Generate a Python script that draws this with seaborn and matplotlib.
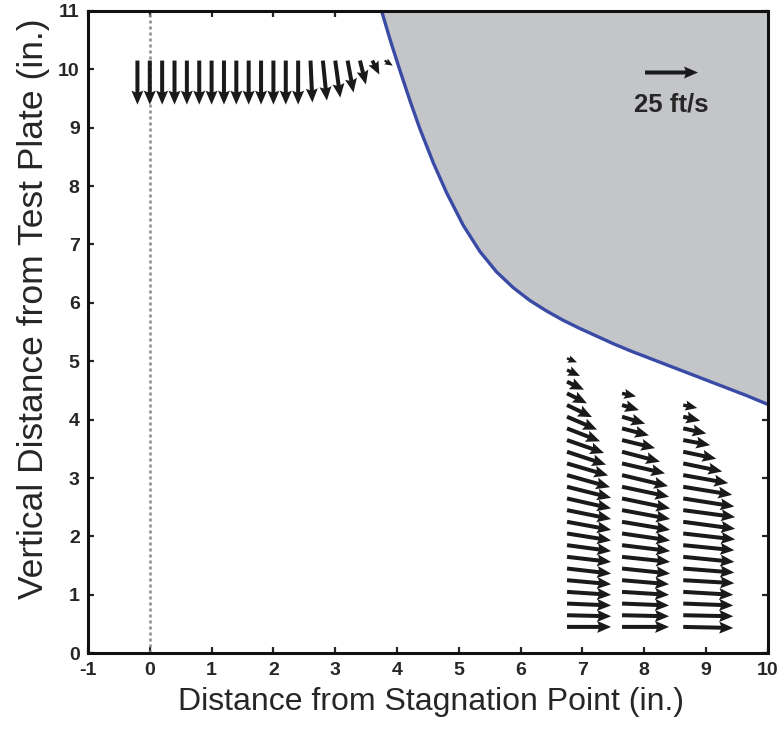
import pandas as pd
import matplotlib
matplotlib.use("Agg")
import matplotlib.pyplot as plt
import seaborn as sns

# boundary of the shaded region (in.)
curve_x = [3.75, 3.89, 4.05, 4.21, 4.37, 4.59, 4.80, 5.07, 5.34, 5.61, 5.88, 6.15,
           6.42, 6.69, 6.96, 7.23, 7.50, 7.77, 8.04, 8.31, 8.58, 8.85, 9.12, 9.39,
           9.66, 10.0]
curve_y = [11.0, 10.50, 9.97, 9.46, 8.98, 8.39, 7.89, 7.33, 6.88, 6.53, 6.26, 6.04,
           5.86, 5.70, 5.56, 5.43, 5.30, 5.18, 5.07, 4.96, 4.85, 4.74, 4.63, 4.52,
           4.41, 4.26]

# upper row of vectors (ft/s)
top_x = [-0.2, 0.0, 0.2, 0.4, 0.6, 0.8, 1.0, 1.2, 1.4, 1.6, 1.8, 2.0, 2.2, 2.4,
         2.6, 2.8, 3.0, 3.2, 3.4, 3.6, 3.8]
top_y = 10.15
top_u = [0, 0, 0, 0, 0, 0, 0, 0, 0, 0, 0, 0, 0, 0,
         0.9, 1.9, 2.4, 2.8, 2.8, 3.3, 3.8]
top_v = [-20.8, -20.8, -20.8, -20.8, -20.8, -20.8, -20.8, -20.8, -20.8, -20.8,
         -20.8, -20.8, -20.8, -20.8, -19.8, -18.9, -17.5, -15.1, -11.3, -6.6, -2.4]

# three profiles near the plate (top to bottom)
col_x = [6.75, 7.64, 8.63]
col1_y = [5.05, 4.85, 4.65, 4.45, 4.25, 4.05, 3.85, 3.65, 3.45, 3.25, 3.05, 2.85,
          2.65, 2.45, 2.25, 2.05, 1.85, 1.65, 1.45, 1.25, 1.05, 0.85, 0.65, 0.45]
col1_u = [4.7, 6.1, 8.0, 9.4, 11.8, 14.2, 15.6, 17.5, 18.4, 19.4, 20.3, 20.8,
          20.8, 20.8, 20.8, 20.8, 20.8, 20.8, 20.8, 20.8, 20.8, 20.8, 20.8, 20.8]
col1_v = [-1.9, -2.8, -3.8, -4.7, -5.7, -6.1, -6.1, -6.1, -6.1, -5.7, -5.7, -5.2,
          -4.7, -4.2, -3.8, -3.3, -2.8, -2.4, -2.4, -1.9, -1.4, -0.9, -0.5, 0.0]

col2_y = [4.45, 4.25, 4.05, 3.85, 3.65, 3.45, 3.25, 3.05, 2.85, 2.65, 2.45,
          2.25, 2.05, 1.85, 1.65, 1.45, 1.25, 1.05, 0.85, 0.65, 0.45]
col2_u = [6.6, 8.0, 10.9, 12.7, 15.6, 17.9, 20.3, 21.7, 22.2, 22.7, 22.7,
          22.7, 22.7, 22.7, 22.7, 22.7, 22.2, 22.2, 22.2, 22.2, 22.2]
col2_v = [-1.4, -2.4, -3.3, -3.3, -3.8, -4.7, -4.7, -5.2, -4.7, -4.7, -4.2,
          -3.8, -3.3, -2.8, -2.4, -2.4, -1.9, -1.4, -0.9, -0.5, 0.0]

col3_y = [4.25, 4.05, 3.85, 3.65, 3.45, 3.25, 3.05, 2.85, 2.65, 2.45,
          2.25, 2.05, 1.85, 1.65, 1.45, 1.25, 1.05, 0.85, 0.65, 0.45]
col3_u = [6.6, 8.0, 10.9, 12.7, 15.6, 18.4, 21.2, 23.1, 24.1, 24.5,
          24.5, 24.5, 24.1, 24.1, 24.1, 24.1, 23.6, 23.6, 23.6, 23.6]
col3_v = [-1.4, -1.9, -2.4, -2.4, -3.3, -3.8, -3.8, -3.8, -3.8, -3.3,
          -3.3, -2.8, -2.4, -2.4, -1.9, -1.4, -1.4, -0.9, -0.5, -0.5]

x_ticks = list(range(-1, 11))
y_ticks = list(range(0, 12))

# gather vectors in one table
frames = [pd.DataFrame({"x": top_x, "y": top_y, "u": top_u, "v": top_v})]
for cx, cy, cu, cv in zip(col_x, [col1_y, col2_y, col3_y],
                          [col1_u, col2_u, col3_u], [col1_v, col2_v, col3_v]):
    frames.append(pd.DataFrame({"x": cx, "y": cy, "u": cu, "v": cv}))
vec = pd.concat(frames, ignore_index=True)

sns.set_theme(style="ticks")
plt.rcParams["font.family"] = ["Liberation Sans", "DejaVu Sans"]
plt.rcParams["axes.unicode_minus"] = False

fig = plt.figure(figsize=(7.82, 7.29), dpi=100)
ax = fig.add_axes([0.1125, 0.104, 0.8695, 0.881])

# shaded region and its boundary
ax.fill_between(curve_x, curve_y, 11, color="#c4c5c9", zorder=1, lw=0)
sns.lineplot(x=curve_x, y=curve_y, ax=ax, color="#3a4ba6", lw=2.4, zorder=2)

ax.axvline(0, color="#8a8a8a", ls=(0, (1.2, 1.2)), lw=1.8, zorder=1)

q = ax.quiver(vec["x"], vec["y"], vec["u"], vec["v"], angles="uv",
              scale_units="inches", scale=47.2, units="dots", width=4.0,
              headwidth=3.0, headlength=3.5, headaxislength=3.1, minshaft=1.2,
              color="#1a1a1a", zorder=3)
ax.quiverkey(q, 8.43, 9.95, 25, "25 ft/s", labelpos="S", coordinates="data",
             labelsep=0.2, color="#1a1a1a",
             fontproperties={"weight": "bold", "size": 18.5})

ax.set_xlim(-1, 10)
ax.set_ylim(0, 11)
ax.set_xticks(x_ticks)
ax.set_yticks(y_ticks)
ax.tick_params(direction="in", length=4.5, width=1.6, top=True, right=True,
               labelsize=14, pad=6)
for lab in ax.get_xticklabels() + ax.get_yticklabels():
    lab.set_fontweight("bold")
for sp in ax.spines.values():
    sp.set_linewidth(2.2)
    sp.set_color("#111111")

ax.set_xlabel("Distance from Stagnation Point (in.)", fontsize=23)
ax.set_ylabel("Vertical Distance from Test Plate (in.)", fontsize=25.5)
ax.xaxis.set_label_coords(0.505, -0.052)
ax.yaxis.set_label_coords(-0.056, 0.537)

fig.savefig("out.png", dpi=100)
